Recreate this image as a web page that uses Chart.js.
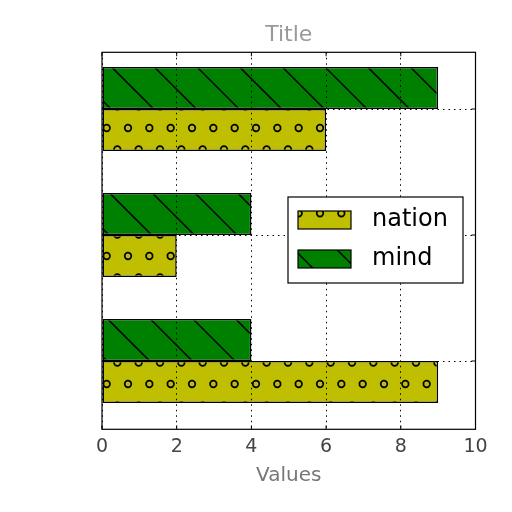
<!DOCTYPE html>
<html><head><meta charset="utf-8">
<script src="https://cdn.jsdelivr.net/npm/chart.js@4.4.1/dist/chart.umd.min.js"></script>
<style>html,body{margin:0;padding:0;background:#fff;} #wrap{width:512px;height:512px;}</style>
</head><body><div id="wrap"><canvas id="c" width="512" height="512"></canvas></div>
<script>
const positions = [0, 1, 2];
const nationValues = [9, 2, 6];
const mindValues = [4, 4, 9];
const seriesLabels = ['nation', 'mind'];
const xTicks = [0, 2, 4, 6, 8, 10];
const yTicks = [0, 1, 2];
const titleText = 'Title';
const xAxisLabel = 'Values';

const FONT = 'DejaVu Sans';

function circlePattern(fill) {
  const T = 128, s = T / 6;
  const c = document.createElement('canvas');
  c.width = T; c.height = T;
  const g = c.getContext('2d');
  g.fillStyle = fill; g.fillRect(0, 0, T, T);
  g.strokeStyle = '#000'; g.lineWidth = 1.7;
  for (let j = 0; j < 6; j++) {
    const y = j * s;
    const off = (j % 2 === 0) ? 0 : s / 2;
    for (let i = 0; i < 6; i++) {
      const x = i * s + off;
      for (const dx of [-T, 0, T]) for (const dy of [-T, 0, T]) {
        g.beginPath(); g.arc(x + dx, y + dy, 3.3, 0, Math.PI * 2); g.stroke();
      }
    }
  }
  return g.createPattern(c, 'repeat');
}
function hatchPattern(fill) {
  const T = 128, s = T / 3;
  const c = document.createElement('canvas');
  c.width = T; c.height = T;
  const g = c.getContext('2d');
  g.fillStyle = fill; g.fillRect(0, 0, T, T);
  g.strokeStyle = '#000'; g.lineWidth = 1.5;
  for (let k = -5; k <= 5; k++) {
    const cc = 2 + k * s;
    g.beginPath(); g.moveTo(cc - 20, -20); g.lineTo(cc + T + 20, T + 20); g.stroke();
  }
  return g.createPattern(c, 'repeat');
}

const nationPattern = circlePattern('#bfbf00');
const mindPattern = hatchPattern('#008000');

const framePlugin = {
  id: 'frame',
  afterDraw(chart) {
    const {ctx, chartArea: a, scales: {x, y}} = chart;
    ctx.save();
    ctx.strokeStyle = '#000'; ctx.lineWidth = 1.2;
    ctx.strokeRect(a.left, a.top, a.right - a.left, a.bottom - a.top);
    ctx.lineWidth = 1;
    ctx.beginPath();
    xTicks.forEach(v => {
      const px = x.getPixelForValue(v);
      ctx.moveTo(px, a.top); ctx.lineTo(px, a.top + 4);
      ctx.moveTo(px, a.bottom); ctx.lineTo(px, a.bottom - 4);
    });
    yTicks.forEach(v => {
      const py = y.getPixelForValue(v);
      ctx.moveTo(a.left, py); ctx.lineTo(a.left + 4, py);
      ctx.moveTo(a.right, py); ctx.lineTo(a.right - 4, py);
    });
    ctx.stroke();

    // legend
    const bx = 288, by = 197, bw = 175, bh = 86;
    ctx.fillStyle = '#fff';
    ctx.fillRect(bx, by, bw, bh);
    ctx.strokeStyle = '#000'; ctx.lineWidth = 1.2;
    ctx.strokeRect(bx, by, bw, bh);
    const items = chart.data.datasets.slice().reverse();
    items.forEach((ds, i) => {
      const sy = 211 + i * 39;
      ctx.fillStyle = ds.backgroundColor;
      ctx.fillRect(298, sy, 53, 18);
      ctx.strokeStyle = '#000'; ctx.lineWidth = 1.2;
      ctx.strokeRect(298, sy, 53, 18);
      ctx.fillStyle = '#000';
      ctx.font = '24px "' + FONT + '"';
      ctx.textBaseline = 'middle';
      ctx.textAlign = 'left';
      ctx.fillText(ds.label, 372, sy + 9);
    });
    ctx.restore();
  }
};

const toPoints = vals => positions.map((p, i) => ({x: vals[i], y: p}));

new Chart(document.getElementById('c'), {
  type: 'bar',
  data: {
    datasets: [
      { label: seriesLabels[1], data: toPoints(mindValues), backgroundColor: mindPattern,
        borderColor: '#000', borderWidth: 1.5, borderSkipped: false,
        categoryPercentage: 2/3, barPercentage: 1 },
      { label: seriesLabels[0], data: toPoints(nationValues), backgroundColor: nationPattern,
        borderColor: '#000', borderWidth: 1.5, borderSkipped: false,
        categoryPercentage: 2/3, barPercentage: 1 }
    ]
  },
  options: {
    indexAxis: 'y',
    responsive: false,
    animation: false,
    devicePixelRatio: 1,
    layout: { padding: { left: 102, right: 36.5, top: 0, bottom: 0 } },
    plugins: {
      legend: { display: false },
      tooltip: { enabled: false },
      title: { display: true, text: titleText, fullSize: false, color: '#999',
        font: { family: FONT, size: 22, weight: 'normal' }, padding: { top: 21.8, bottom: 4.1 } }
    },
    scales: {
      x: {
        type: 'linear', min: 0, max: 10, offset: false,
        afterBuildTicks: s => { s.ticks = xTicks.map(v => ({value: v})); },
        ticks: { color: '#444', font: { family: FONT, size: 19 }, padding: 6, maxRotation: 0, autoSkip: false },
        grid: { color: '#000', lineWidth: 1, drawTicks: false, z: 1, offset: false },
        border: { display: false, dash: [1.5, 4] },
        title: { display: true, text: xAxisLabel, color: '#777', font: { family: FONT, size: 20 }, padding: { top: 0, bottom: 24 } },
        afterFit: s => { s.height = 82.7; }
      },
      y: {
        type: 'linear', min: -0.542, max: 2.45, offset: false,
        afterBuildTicks: s => { s.ticks = yTicks.map(v => ({value: v})); },
        ticks: { display: false },
        grid: { color: '#000', lineWidth: 1, drawTicks: false, z: 1, offset: false },
        border: { display: false, dash: [1.5, 4] },
        afterFit: s => { s.width = 0; }
      }
    }
  },
  plugins: [framePlugin]
});
</script>
</body></html>
